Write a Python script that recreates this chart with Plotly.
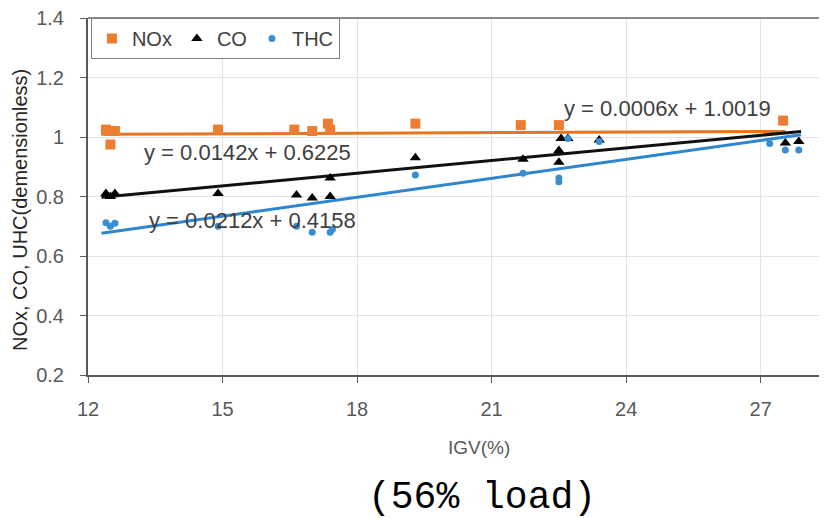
import plotly.graph_objects as go

# ---- data ----
nox_x = [12.4, 12.5, 12.6, 12.5, 14.9, 16.6, 17.0, 17.35, 17.4, 19.3, 21.65, 22.5, 27.5]
nox_y = [1.025, 1.02, 1.02, 0.975, 1.025, 1.025, 1.02, 1.045, 1.025, 1.045, 1.04, 1.04, 1.055]

co_x = [12.4, 12.5, 12.6, 14.9, 16.65, 17.0, 17.4, 17.4, 19.3, 21.7, 22.5, 22.5, 22.55, 22.7, 23.4, 27.55, 27.85]
co_y = [0.81, 0.80, 0.81, 0.81, 0.805, 0.795, 0.862, 0.80, 0.93, 0.925, 0.955, 0.915, 0.995, 0.995, 0.99, 0.98, 0.985]

thc_x = [12.4, 12.5, 12.6, 14.9, 16.65, 17.0, 17.4, 17.45, 19.3, 21.7, 22.5, 22.5, 22.7, 23.4, 27.2, 27.55, 27.85]
thc_y = [0.712, 0.70, 0.71, 0.70, 0.70, 0.68, 0.68, 0.69, 0.872, 0.878, 0.862, 0.85, 0.995, 0.985, 0.978, 0.956, 0.956]

# trendline coefficients (slope, intercept) as printed on the chart
nox_fit = (0.0006, 1.0019)
co_fit = (0.0142, 0.6225)
thc_fit = (0.0212, 0.4158)

x_ticks = [12, 15, 18, 21, 24, 27]
y_ticks = [0.2, 0.4, 0.6, 0.8, 1.0, 1.2, 1.4]
y_tick_text = ["0.2", "0.4", "0.6", "0.8", "1", "1.2", "1.4"]

ORANGE = "#ED7D31"
ORANGE_L = "#E8741F"
BLUE = "#2E86CF"
BLUE_M = "#3A8DD0"
GRAY_T = "#595959"
FONT = "Liberation Sans"

L, R, T, B = 88, 5, 18, 143
W, H = 824, 518
pw, ph = W - L - R, H - T - B

def px_to_paper(px_x, px_y):
    return (px_x - L) / pw, (H - B - px_y) / ph

def trend(xs, fit):
    x0, x1 = min(xs) - 0.1, max(xs) + 0.05
    return [x0, x1], [fit[0] * x0 + fit[1], fit[0] * x1 + fit[1]]

fig = go.Figure()

for xs, fit, col in [(nox_x, nox_fit, ORANGE_L), (co_x, co_fit, "#111111"), (thc_x, thc_fit, BLUE)]:
    tx, ty = trend(xs, fit)
    fig.add_trace(go.Scatter(x=tx, y=ty, mode="lines", line=dict(color=col, width=3),
                             showlegend=False, hoverinfo="skip"))

fig.add_trace(go.Scatter(x=nox_x, y=nox_y, mode="markers", name="NOx",
                         marker=dict(symbol="square", size=10, color=ORANGE)))
fig.add_trace(go.Scatter(x=co_x, y=co_y, mode="markers", name="CO",
                         marker=dict(symbol="triangle-up", size=10, color="#000000")))
fig.add_trace(go.Scatter(x=thc_x, y=thc_y, mode="markers", name="THC",
                         marker=dict(symbol="circle", size=7, color=BLUE_M)))

ann_font = dict(family=FONT, size=22, color="#404040")
for (px, py, txt) in [(667, 108, "y = 0.0006x + 1.0019"),
                      (247, 152, "y = 0.0142x + 0.6225"),
                      (252, 220, "y = 0.0212x + 0.4158")]:
    ax, ay = px_to_paper(px, py)
    fig.add_annotation(x=ax, y=ay, xref="paper", yref="paper", text=txt, showarrow=False,
                       font=ann_font, xanchor="center", yanchor="middle")

ax, ay = px_to_paper(479, 447)
fig.add_annotation(x=ax, y=ay, xref="paper", yref="paper", text="IGV(%)", showarrow=False,
                   font=dict(family=FONT, size=19, color=GRAY_T), xanchor="center", yanchor="middle")
ax, ay = px_to_paper(20, 210)
fig.add_annotation(x=ax, y=ay, xref="paper", yref="paper", text="NOx, CO, UHC(demensionless)",
                   showarrow=False, textangle=-90,
                   font=dict(family=FONT, size=20, color="#262626"), xanchor="center", yanchor="middle")
ax, ay = px_to_paper(482, 497)
fig.add_annotation(x=ax, y=ay, xref="paper", yref="paper", text="(56% load)", showarrow=False,
                   font=dict(family="Liberation Mono", size=38, color="#000000"),
                   xanchor="center", yanchor="middle")

fig.update_layout(
    width=W, height=H, margin=dict(l=L, r=R, t=T, b=B, pad=0),
    paper_bgcolor="white", plot_bgcolor="white",
    font=dict(family=FONT, color=GRAY_T),
    legend=dict(orientation="h", x=0.004, y=1.0, xanchor="left", yanchor="top",
                bordercolor="#7f7f7f", borderwidth=1, bgcolor="white",
                font=dict(family=FONT, size=20, color="#404040"),
                itemwidth=30, tracegroupgap=0),
)
fig.update_xaxes(range=[12, 28.3], tickvals=x_ticks, ticktext=[str(v) for v in x_ticks],
                 showgrid=True, gridcolor="#E3E3E3", gridwidth=1,
                 showline=True, linecolor="#595959", linewidth=2,
                 ticks="outside", ticklen=6, tickcolor="#595959",
                 tickfont=dict(family=FONT, size=20, color=GRAY_T), zeroline=False,
                 ticklabelstandoff=9)
fig.update_yaxes(range=[0.2, 1.4], tickvals=y_ticks, ticktext=y_tick_text,
                 showgrid=True, gridcolor="#E3E3E3", gridwidth=1,
                 showline=True, linecolor="#595959", linewidth=2,
                 ticks="outside", ticklen=6, tickcolor="#595959",
                 tickfont=dict(family=FONT, size=20, color=GRAY_T), zeroline=False,
                 ticklabelstandoff=12)
fig.add_shape(type="line", xref="paper", yref="paper", x0=0, x1=1, y0=1, y1=1,
              line=dict(color="#8c8c8c", width=2))

fig.write_html("out.html")
